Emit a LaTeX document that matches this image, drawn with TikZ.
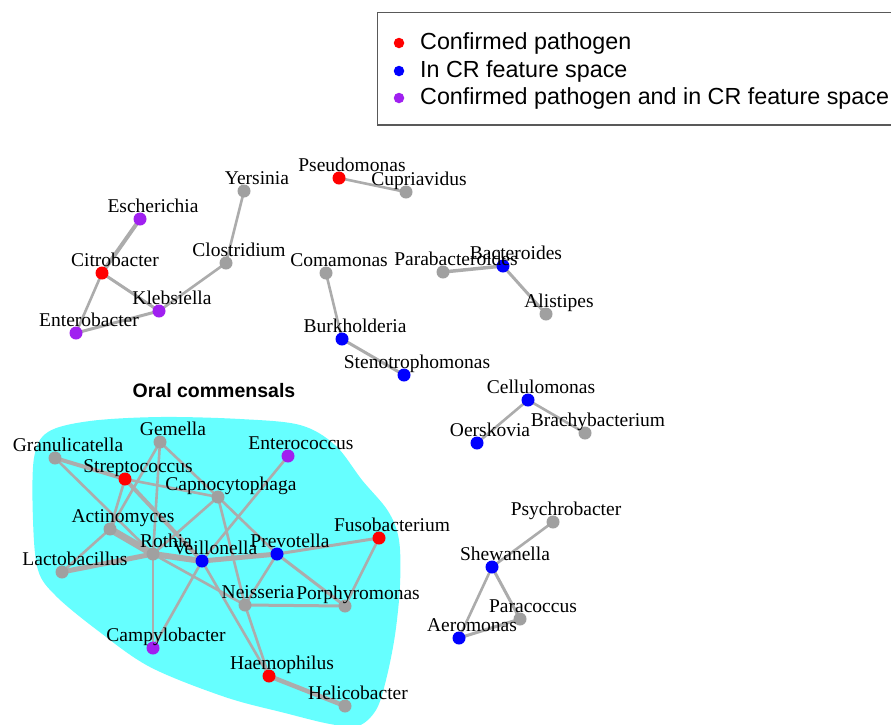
\documentclass[tikz,border=0pt]{standalone}
\usepackage{fontspec}
\setmainfont{Liberation Serif}
\newfontfamily\legfont{Liberation Sans}
\definecolor{hullcyan}{RGB}{102,255,255}
\definecolor{edgegray}{RGB}{172,172,172}
\definecolor{nodegray}{RGB}{160,160,160}
\definecolor{pathred}{RGB}{255,0,0}
\definecolor{crblue}{RGB}{0,0,255}
\definecolor{bothpurple}{RGB}{160,32,240}
\tikzset{
  gnode/.style={circle, inner sep=0pt, minimum size=13pt, draw=none},
  gr/.style={gnode, fill=nodegray},
  rd/.style={gnode, fill=pathred},
  bl/.style={gnode, fill=crblue},
  pu/.style={gnode, fill=bothpurple},
  edge/.style={draw=edgegray, line width=2.6pt, line cap=round},
  lbl/.style={anchor=base, inner sep=0pt, font=\fontsize{19.5}{22}\selectfont},
  legdot/.style={circle, inner sep=0pt, minimum size=10.5pt, draw=none},
  legtxt/.style={anchor=west, inner sep=0pt, font=\legfont\fontsize{23.3}{26}\selectfont}
}
\begin{document}
\begin{tikzpicture}[x=1pt, y=-1pt]
\useasboundingbox (0,0) rectangle (891,724);
\clip (0,0) rectangle (891,724);
\fill[white] (0,0) rectangle (891,724);

% legend
\draw[draw=black!65, line width=1.3pt] (377.5,12.5) rectangle (960,125);
\node[legdot, fill=pathred] (ld1) at (399,43) {};
\node[legdot, fill=crblue] (ld2) at (399,71) {};
\node[legdot, fill=bothpurple] (ld3) at (399,98) {};
\node[legtxt] (lt1) at (420,43) {Confirmed pathogen};
\node[legtxt] (lt2) at (420,71) {In CR feature space};
\node[legtxt] (lt3) at (420,98) {Confirmed pathogen and in CR feature space};

% hull of oral commensals
\fill[hullcyan] plot[smooth cycle, tension=0.55] coordinates {
 (34,458) (48,432) (90,421) (160,417) (240,419) (300,425) (335,445)
 (362,480) (388,511) (399,540) (400,585) (395,635) (386,680) (376,710)
 (358,726) (330,724) (285,713) (225,697) (150,667) (97,630) (56,596)
 (38,570) (33,520)};
\node[font=\legfont\bfseries\fontsize{19.5}{22}\selectfont, inner sep=0pt] (oral) at (214,391) {Oral commensals};

% coordinates
\coordinate (Pseu) at (339,178);
\coordinate (Cupr) at (406,192);
\coordinate (Yers) at (244,191);
\coordinate (Esch) at (140,219);
\coordinate (Citr) at (102,273);
\coordinate (Kleb) at (159,311);
\coordinate (Ente) at (76,333);
\coordinate (Clos) at (226,263);
\coordinate (Coma) at (326,273);
\coordinate (Burk) at (342,339);
\coordinate (Sten) at (404,375);
\coordinate (Para) at (443,272);
\coordinate (Bact) at (503,266);
\coordinate (Alis) at (546,314);
\coordinate (Cell) at (528,400);
\coordinate (Oers) at (477,443);
\coordinate (Brac) at (585,433);
\coordinate (Psyc) at (553,522);
\coordinate (Shew) at (492,567);
\coordinate (Parc) at (520,619);
\coordinate (Aero) at (459,638);
\coordinate (Gran) at (55,458);
\coordinate (Geme) at (160,442);
\coordinate (Stre) at (125,479);
\coordinate (Entc) at (288,456);
\coordinate (Capn) at (218,497);
\coordinate (Acti) at (110,529);
\coordinate (Roth) at (153,554);
\coordinate (Veil) at (202,561);
\coordinate (Prev) at (277,554);
\coordinate (Fuso) at (379,538);
\coordinate (Lact) at (62,572);
\coordinate (Neis) at (245,605);
\coordinate (Porp) at (345,606);
\coordinate (Camp) at (153,648);
\coordinate (Haem) at (269,676);
\coordinate (Heli) at (345,706);

% edges
\draw[edge, line width=4pt] (Esch) -- (Citr);
\draw[edge, line width=3pt] (Citr) -- (Kleb);
\draw[edge] (Citr) -- (Ente);
\draw[edge, line width=3pt] (Ente) -- (Kleb);
\draw[edge] (Kleb) -- (Clos);
\draw[edge] (Clos) -- (Yers);
\draw[edge] (Pseu) -- (Cupr);
\draw[edge] (Coma) -- (Burk);
\draw[edge, line width=3pt] (Burk) -- (Sten);
\draw[edge, line width=3.5pt] (Para) -- (Bact);
\draw[edge, line width=3pt] (Bact) -- (Alis);
\draw[edge] (Cell) -- (Oers);
\draw[edge] (Cell) -- (Brac);
\draw[edge] (Psyc) -- (Shew);
\draw[edge] (Shew) -- (Aero);
\draw[edge, line width=3pt] (Shew) -- (Parc);
\draw[edge, line width=3pt] (Parc) -- (Aero);

\draw[edge, line width=4pt] (Gran) -- (Stre);
\draw[edge] (Gran) -- (Roth);
\draw[edge] (Geme) -- (Acti);
\draw[edge] (Geme) -- (Roth);
\draw[edge] (Geme) -- (Capn);
\draw[edge] (Stre) -- (Acti);
\draw[edge] (Stre) -- (Capn);
\draw[edge, line width=4pt] (Stre) -- (Veil);
\draw[edge] (Acti) -- (Lact);
\draw[edge, line width=7pt] (Acti) -- (Roth);
\draw[edge, line width=5pt] (Lact) -- (Roth);
\draw[edge, line width=6pt] (Roth) -- (Veil);
\draw[edge, line width=5pt] (Veil) -- (Prev);
\draw[edge] (Roth) -- (Neis);
\draw[edge] (Roth) -- (Camp);
\draw[edge] (Veil) -- (Camp);
\draw[edge] (Veil) -- (Haem);
\draw[edge] (Veil) -- (Entc);
\draw[edge] (Capn) -- (Roth);
\draw[edge] (Capn) -- (Neis);
\draw[edge] (Capn) -- (Prev);
\draw[edge, line width=3pt] (Prev) -- (Fuso);
\draw[edge] (Prev) -- (Neis);
\draw[edge, line width=3pt] (Prev) -- (Porp);
\draw[edge] (Fuso) -- (Porp);
\draw[edge, line width=3pt] (Neis) -- (Porp);
\draw[edge] (Neis) -- (Haem);
\draw[edge, line width=4.5pt] (Haem) -- (Heli);

% vertices
\node[rd] (nPseu) at (Pseu) {};
\node[gr] (nCupr) at (Cupr) {};
\node[gr] (nYers) at (Yers) {};
\node[pu] (nEsch) at (Esch) {};
\node[rd] (nCitr) at (Citr) {};
\node[pu] (nKleb) at (Kleb) {};
\node[pu] (nEnte) at (Ente) {};
\node[gr] (nClos) at (Clos) {};
\node[gr] (nComa) at (Coma) {};
\node[bl] (nBurk) at (Burk) {};
\node[bl] (nSten) at (Sten) {};
\node[gr] (nPara) at (Para) {};
\node[bl] (nBact) at (Bact) {};
\node[gr] (nAlis) at (Alis) {};
\node[bl] (nCell) at (Cell) {};
\node[bl] (nOers) at (Oers) {};
\node[gr] (nBrac) at (Brac) {};
\node[gr] (nPsyc) at (Psyc) {};
\node[bl] (nShew) at (Shew) {};
\node[gr] (nParc) at (Parc) {};
\node[bl] (nAero) at (Aero) {};
\node[gr] (nGran) at (Gran) {};
\node[gr] (nGeme) at (Geme) {};
\node[rd] (nStre) at (Stre) {};
\node[pu] (nEntc) at (Entc) {};
\node[gr] (nCapn) at (Capn) {};
\node[gr] (nActi) at (Acti) {};
\node[gr] (nRoth) at (Roth) {};
\node[bl] (nVeil) at (Veil) {};
\node[bl] (nPrev) at (Prev) {};
\node[rd] (nFuso) at (Fuso) {};
\node[gr] (nLact) at (Lact) {};
\node[gr] (nNeis) at (Neis) {};
\node[gr] (nPorp) at (Porp) {};
\node[pu] (nCamp) at (Camp) {};
\node[rd] (nHaem) at (Haem) {};
\node[gr] (nHeli) at (Heli) {};

% labels
\node[lbl] (tPseu) at ([shift={(13,-7)}]Pseu) {Pseudomonas};
\node[lbl] (tCupr) at ([shift={(13,-7)}]Cupr) {Cupriavidus};
\node[lbl] (tYers) at ([shift={(13,-7)}]Yers) {Yersinia};
\node[lbl] (tEsch) at ([shift={(13,-7)}]Esch) {Escherichia};
\node[lbl] (tCitr) at ([shift={(13,-7)}]Citr) {Citrobacter};
\node[lbl] (tKleb) at ([shift={(13,-7)}]Kleb) {Klebsiella};
\node[lbl] (tEnte) at ([shift={(13,-7)}]Ente) {Enterobacter};
\node[lbl] (tClos) at ([shift={(13,-7)}]Clos) {Clostridium};
\node[lbl] (tComa) at ([shift={(13,-7)}]Coma) {Comamonas};
\node[lbl] (tBurk) at ([shift={(13,-7)}]Burk) {Burkholderia};
\node[lbl] (tSten) at ([shift={(13,-7)}]Sten) {Stenotrophomonas};
\node[lbl] (tPara) at ([shift={(13,-7)}]Para) {Parabacteroides};
\node[lbl] (tBact) at ([shift={(13,-7)}]Bact) {Bacteroides};
\node[lbl] (tAlis) at ([shift={(13,-7)}]Alis) {Alistipes};
\node[lbl] (tCell) at ([shift={(13,-7)}]Cell) {Cellulomonas};
\node[lbl] (tOers) at ([shift={(13,-7)}]Oers) {Oerskovia};
\node[lbl] (tBrac) at ([shift={(13,-7)}]Brac) {Brachybacterium};
\node[lbl] (tPsyc) at ([shift={(13,-7)}]Psyc) {Psychrobacter};
\node[lbl] (tShew) at ([shift={(13,-7)}]Shew) {Shewanella};
\node[lbl] (tParc) at ([shift={(13,-7)}]Parc) {Paracoccus};
\node[lbl] (tAero) at ([shift={(13,-7)}]Aero) {Aeromonas};
\node[lbl] (tGran) at ([shift={(13,-7)}]Gran) {Granulicatella};
\node[lbl] (tGeme) at ([shift={(13,-7)}]Geme) {Gemella};
\node[lbl] (tStre) at ([shift={(13,-7)}]Stre) {Streptococcus};
\node[lbl] (tEntc) at ([shift={(13,-7)}]Entc) {Enterococcus};
\node[lbl] (tCapn) at ([shift={(13,-7)}]Capn) {Capnocytophaga};
\node[lbl] (tActi) at ([shift={(13,-7)}]Acti) {Actinomyces};
\node[lbl] (tRoth) at ([shift={(13,-7)}]Roth) {Rothia};
\node[lbl] (tVeil) at ([shift={(13,-7)}]Veil) {Veillonella};
\node[lbl] (tPrev) at ([shift={(13,-7)}]Prev) {Prevotella};
\node[lbl] (tFuso) at ([shift={(13,-7)}]Fuso) {Fusobacterium};
\node[lbl] (tLact) at ([shift={(13,-7)}]Lact) {Lactobacillus};
\node[lbl] (tNeis) at ([shift={(13,-7)}]Neis) {Neisseria};
\node[lbl] (tPorp) at ([shift={(13,-7)}]Porp) {Porphyromonas};
\node[lbl] (tCamp) at ([shift={(13,-7)}]Camp) {Campylobacter};
\node[lbl] (tHaem) at ([shift={(13,-7)}]Haem) {Haemophilus};
\node[lbl] (tHeli) at ([shift={(13,-7)}]Heli) {Helicobacter};
\end{tikzpicture}
\end{document}
